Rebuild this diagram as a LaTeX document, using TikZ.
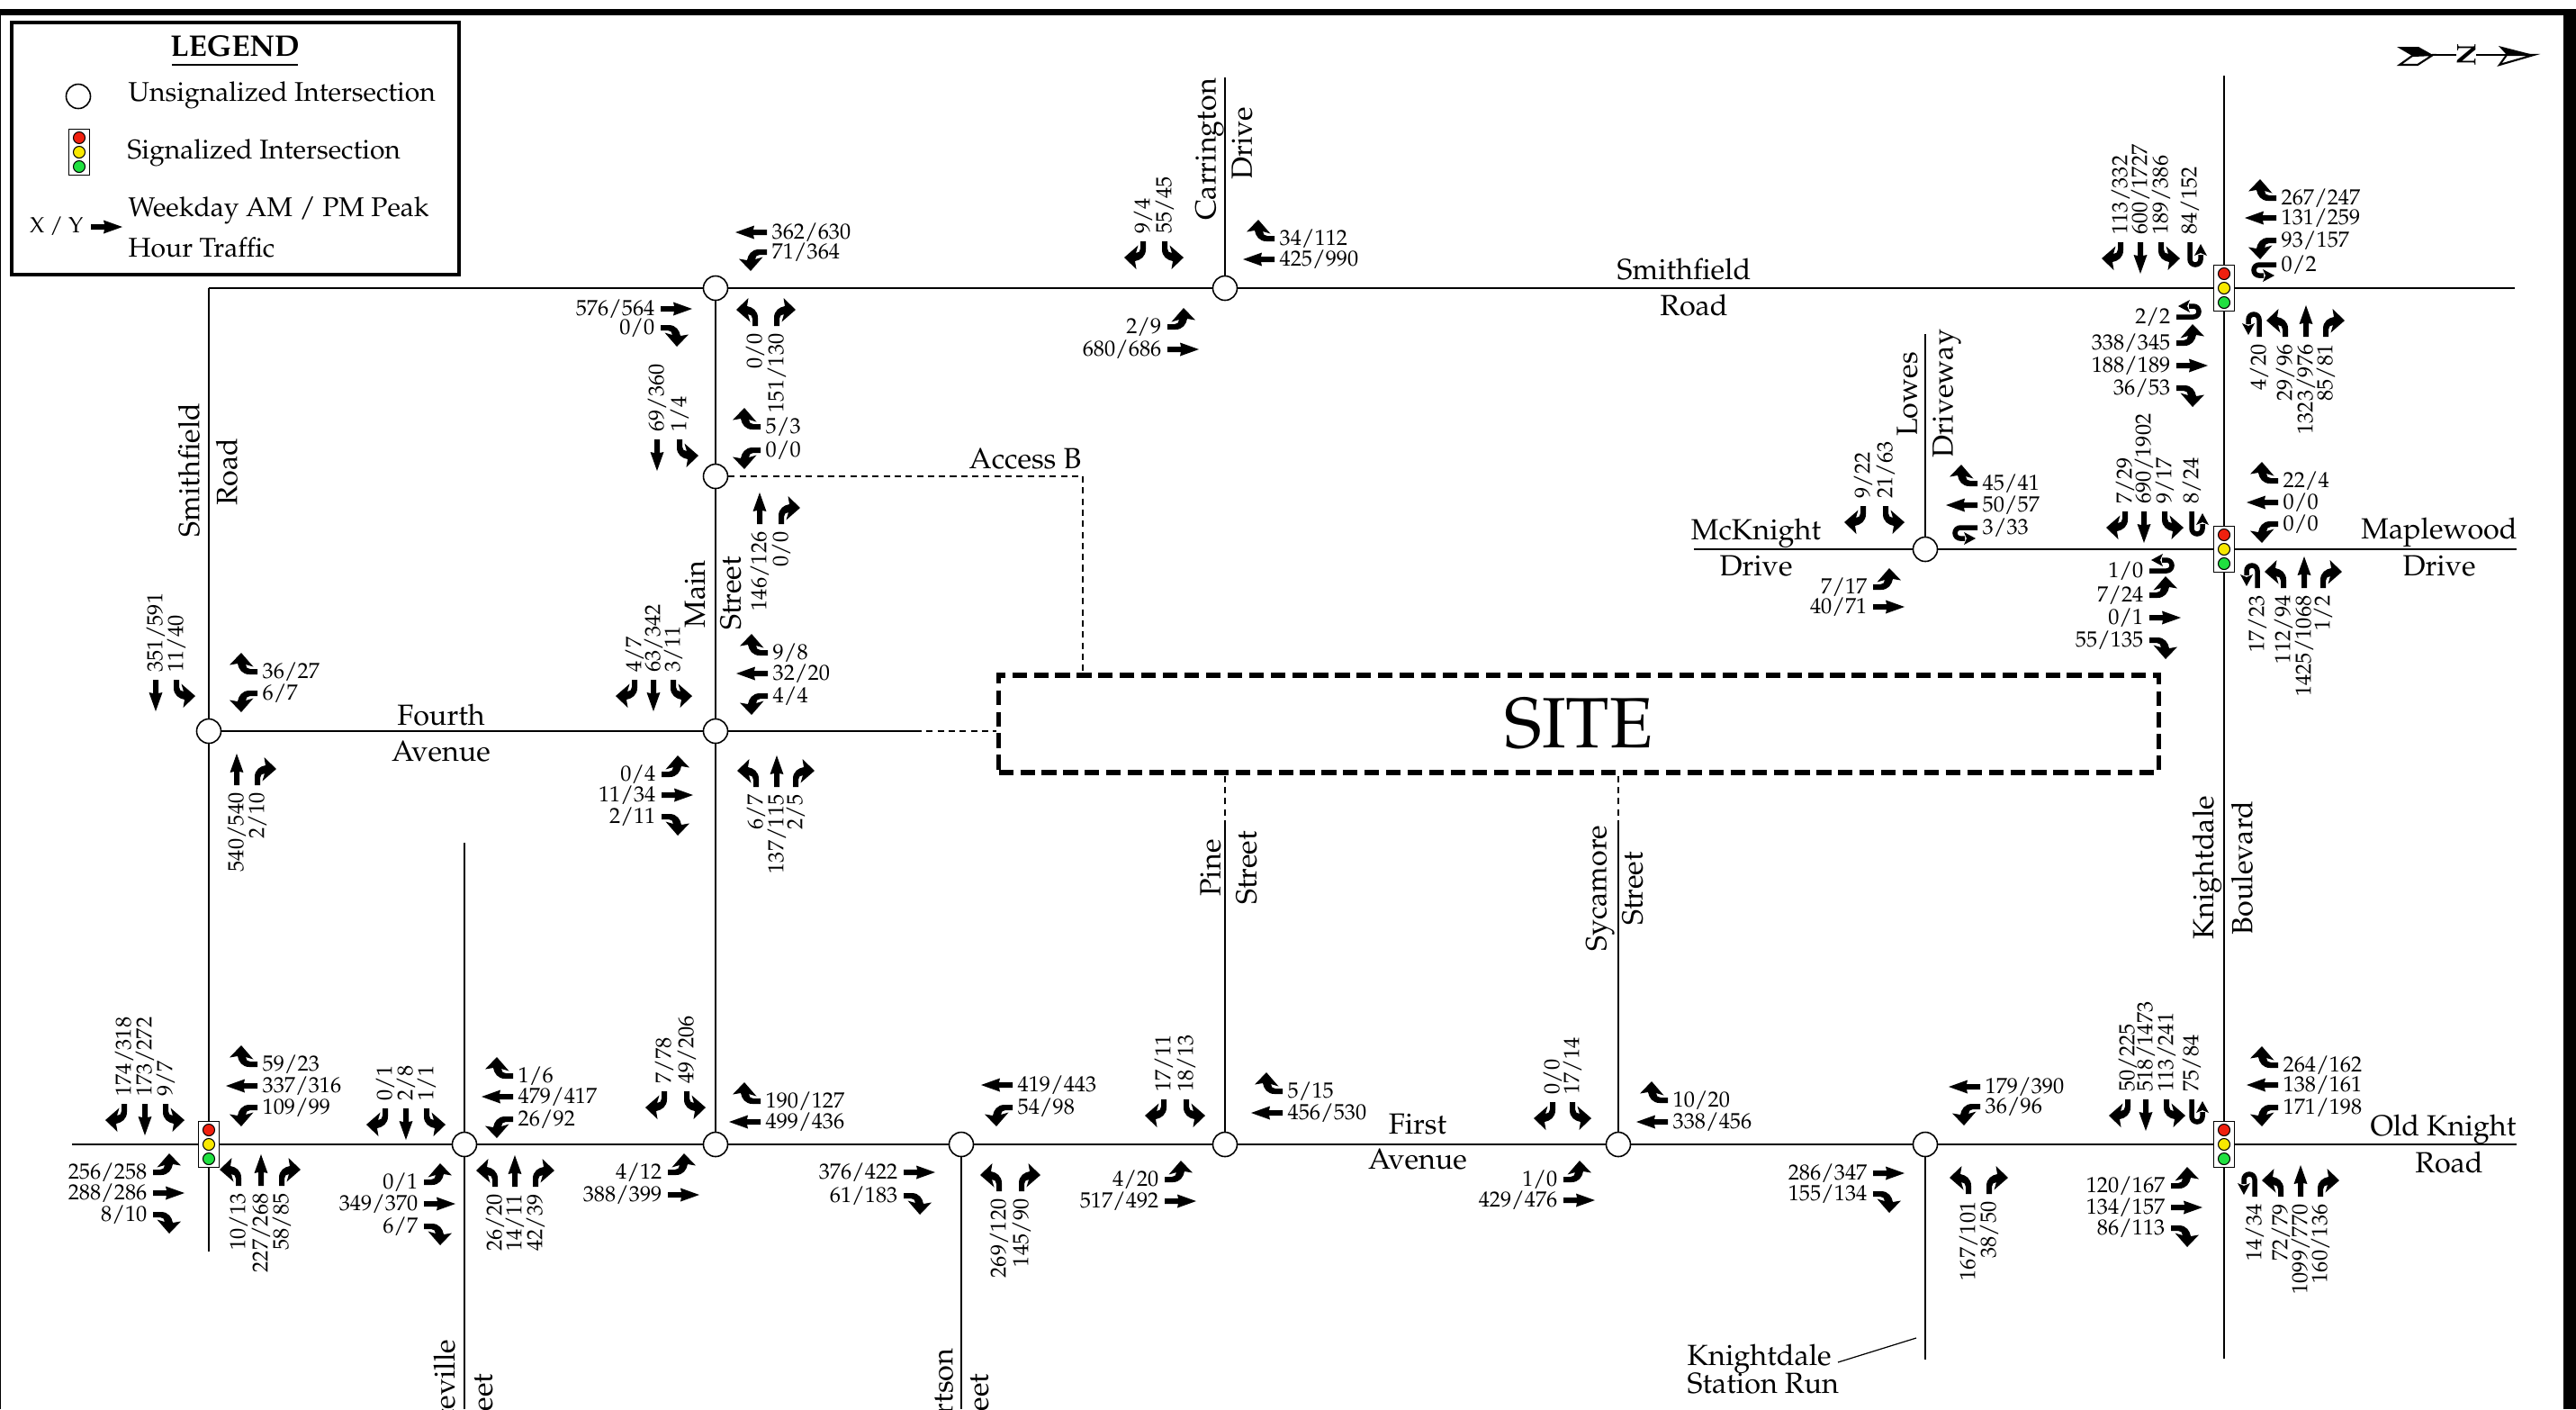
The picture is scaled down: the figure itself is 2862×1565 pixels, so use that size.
\documentclass[tikz,border=0pt]{standalone}
\usepackage[T1]{fontenc}
\usepackage{mathpazo}
\usepackage{tikz}
\usetikzlibrary{positioning, calc}
\usepackage{xcolor}

\definecolor{sigred}{HTML}{F0200F}
\definecolor{sigyellow}{HTML}{F8E800}
\definecolor{siggreen}{HTML}{20E040}

\newcommand{\rturnpath}{(-3,0) -- (-3,9) .. controls (-3,17) and (3,21) .. (9,22) -- (7.5,31) -- (21,18) -- (5.5,4.5) -- (8,13) .. controls (5,13) and (3,11) .. (3,8) -- (3,0) -- cycle}

\tikzset{
  road/.style={line width=0.7pt},
  accessrd/.style={line width=0.55pt, dash pattern=on 2pt off 1.5pt},
  noctrl/.style={circle, draw, fill=white, line width=0.45pt, minimum size=0.27cm, inner sep=0pt},
  signalbox/.style={rectangle, draw, fill=white, line width=0.35pt, minimum width=0.23cm, minimum height=0.51cm, inner sep=0pt},
  vol/.style={font=\fontsize{6.9}{7}\selectfont, inner sep=0pt},
  volv/.style={vol, rotate=90},
  streetname/.style={font=\fontsize{9.2}{10}\selectfont, inner sep=0pt},
  streetv/.style={streetname, rotate=90},
  legendtxt/.style={font=\fontsize{8.55}{10}\selectfont, inner sep=0pt, anchor=west},
  pics/thru/.style={code={\fill[x=0.01cm, y=0.01cm] (-3,0) -- (-3,15) -- (-7.5,14) -- (0,35) -- (7.5,14) -- (3,15) -- (3,0) -- cycle;}},
  pics/rturn/.style={code={\fill[x=0.01cm, y=0.01cm] \rturnpath;}},
  pics/lturn/.style={code={\fill[x=0.01cm, y=0.01cm, xscale=-1] \rturnpath;}},
  pics/uturn/.style={code={
    \draw[x=0.01cm, y=0.01cm, line width=0.055cm] (0,0) -- (0,19) arc[start angle=0, end angle=180, radius=6] -- (-12,14);
    \fill[x=0.01cm, y=0.01cm] (-19,15) -- (-12,2) -- (-5,15) -- (-12,12) -- cycle;}}
}

% arrow base x, y, kind, AM, PM
\newcommand{\nbmoves}[1]{\foreach \x/\y/\k/\va/\vb in {#1}{\pic at (\x,\y) {\k}; \node[volv, anchor=east, name=nb\x-\y] at (\x,\y+8) {\va/\vb};}}
\newcommand{\sbmoves}[1]{\foreach \x/\y/\k/\va/\vb in {#1}{\pic[rotate=180] at (\x,\y) {\k}; \node[volv, anchor=west, name=sb\x-\y] at (\x,\y-8) {\va/\vb};}}
\newcommand{\ebmoves}[1]{\foreach \x/\y/\k/\va/\vb in {#1}{\pic[rotate=-90] at (\x,\y) {\k}; \node[vol, anchor=east, name=eb\x-\y] at (\x-6,\y) {\va/\vb};}}
\newcommand{\wbmoves}[1]{\foreach \x/\y/\k/\va/\vb in {#1}{\pic[rotate=90] at (\x,\y) {\k}; \node[vol, anchor=west, name=wb\x-\y] at (\x+5,\y) {\va/\vb};}}

\begin{document}
\begin{tikzpicture}[x=0.01cm, y=-0.01cm]
  \useasboundingbox (0,0) rectangle (2862,1565);
  \clip (0,0) rectangle (2862,1565);
  \fill[white] (0,0) rectangle (2862,1565);

  % sheet edge
  \fill (0,10) rectangle (2862,17);
  \fill (2848,10) rectangle (2862,1565);
  \draw[line width=0.4pt] (0.5,10) -- (0.5,1565);

  % legend
  \draw[line width=0.9pt] (13,25) rectangle (510,305);
  \node[font=\bfseries\fontsize{9.4}{10}\selectfont, inner sep=0pt] (lgtitle) at (261,51) {LEGEND};
  \draw[line width=0.7pt] (191,72) -- (331,72);
  \node[noctrl] (lgopen) at (87,107) {};
  \node[signalbox] (lgsig) at (88,169) {};
  \node[legendtxt] (lgone) at (142,106) {Unsignalized Intersection};
  \node[legendtxt] (lgtwo) at (141,170) {Signalized Intersection};
  \node[legendtxt] (lgthree) at (142,234) {Weekday AM / PM Peak};
  \node[legendtxt] (lgfour) at (142,275) {Hour Traffic};
  \node[vol, anchor=east] (lgxy) at (93,251) {X / Y};
  \pic[rotate=-90] at (101,252) {thru};

  % north arrow
  \fill (2663,52) -- (2687,52) -- (2703,61) -- (2680,62) -- cycle;
  \draw[line width=0.6pt] (2666,72) -- (2686,72) -- (2703,61) -- (2680,62) -- cycle;
  \draw[line width=0.6pt] (2700,61) -- (2790,61);
  \fill (2776,51) -- (2815,61) -- (2785,61) -- cycle;
  \draw[line width=0.6pt, fill=white] (2777,72) -- (2815,61) -- (2785,61) -- cycle;
  \node[fill=white, inner sep=0.3pt, rotate=-90, font=\bfseries\fontsize{8.5}{9}\selectfont] (northn) at (2740,61) {N};

  % intersections
  \node[noctrl] (topmain) at (795,320) {};
  \node[noctrl] (topcarr) at (1361,320) {};
  \node[noctrl] (accb) at (795,529) {};
  \node[noctrl] (frthsmith) at (232,812) {};
  \node[noctrl] (frthmain) at (795,812) {};
  \node[noctrl] (lowes) at (2139,610) {};
  \node[noctrl] (frstfay) at (516,1271) {};
  \node[noctrl] (frstmain) at (795,1271) {};
  \node[noctrl] (frstrob) at (1068,1271) {};
  \node[noctrl] (frstpine) at (1361,1271) {};
  \node[noctrl] (frstsyc) at (1798,1271) {};
  \node[noctrl] (frstksr) at (2139,1271) {};
  \node[signalbox] (sigtop) at (2471,320) {};
  \node[signalbox] (sigmaple) at (2471,610) {};
  \node[signalbox] (sigold) at (2471,1271) {};
  \node[signalbox] (sigfrst) at (232,1271) {};
  \foreach \n in {lgsig,sigtop,sigmaple,sigold,sigfrst}{
    \draw[fill=sigred, line width=0.3pt] ([yshift=0.16cm]\n.center) circle (0.065cm);
    \draw[fill=sigyellow, line width=0.3pt] (\n.center) circle (0.065cm);
    \draw[fill=siggreen, line width=0.3pt] ([yshift=-0.16cm]\n.center) circle (0.065cm);
  }
  \node[draw, line width=1.6pt, dash pattern=on 4.6pt off 2.2pt, minimum width=12.88cm, minimum height=1.08cm, inner sep=0pt, font=\fontsize{22.5}{24}\selectfont] (site) at (1754,804) {SITE};

  % free road ends
  \coordinate (cornerne) at (232,320);
  \coordinate (topend) at (2794,320);
  \coordinate (smithend) at (232,1390);
  \coordinate (carrend) at (1361,86);
  \coordinate (blvdtop) at (2471,84);
  \coordinate (blvdend) at (2471,1509);
  \coordinate (mckend) at (1882,610);
  \coordinate (mapleend) at (2796,610);
  \coordinate (lowesend) at (2139,371);
  \coordinate (frstwest) at (80,1271);
  \coordinate (frsteast) at (2796,1271);
  \coordinate (frthend) at (1017,812);
  \coordinate (accorner) at (1203,529);
  \coordinate (pineend) at (1361,918);
  \coordinate (sycend) at (1798,918);
  \coordinate (fayend) at (516,936);
  \coordinate (fayfoot) at (516,1565);
  \coordinate (robfoot) at (1068,1565);
  \coordinate (ksrend) at (2139,1510);
  \coordinate (ksrlead) at (2129,1486);
  \coordinate (ksrtext) at (2042,1513);

  \draw[road] (cornerne) -- (topmain);
  \draw[road] (topmain) -- (topcarr);
  \draw[road] (topcarr) -- (sigtop);
  \draw[road] (sigtop) -- (topend);
  \draw[road] (cornerne) -- (frthsmith);
  \draw[road] (frthsmith) -- (sigfrst);
  \draw[road] (sigfrst) -- (smithend);
  \draw[road] (topmain) -- (accb);
  \draw[road] (accb) -- (frthmain);
  \draw[road] (frthmain) -- (frstmain);
  \draw[road] (frthsmith) -- (frthmain);
  \draw[road] (frthmain) -- (frthend);
  \draw[accessrd] (frthend) -- (frthend -| site.west);
  \draw[accessrd] (accb) -- (accorner);
  \draw[accessrd] (accorner) -- (accorner |- site.north);
  \draw[road] (carrend) -- (topcarr);
  \draw[road] (blvdtop) -- (sigtop);
  \draw[road] (sigtop) -- (sigmaple);
  \draw[road] (sigmaple) -- (sigold);
  \draw[road] (sigold) -- (blvdend);
  \draw[road] (mckend) -- (lowes);
  \draw[road] (lowes) -- (sigmaple);
  \draw[road] (sigmaple) -- (mapleend);
  \draw[road] (lowesend) -- (lowes);
  \draw[road] (frstwest) -- (sigfrst);
  \draw[road] (sigfrst) -- (frstfay);
  \draw[road] (frstfay) -- (frstmain);
  \draw[road] (frstmain) -- (frstrob);
  \draw[road] (frstrob) -- (frstpine);
  \draw[road] (frstpine) -- (frstsyc);
  \draw[road] (frstsyc) -- (frstksr);
  \draw[road] (frstksr) -- (sigold);
  \draw[road] (sigold) -- (frsteast);
  \draw[road] (pineend) -- (frstpine);
  \draw[accessrd] (pineend) -- (pineend |- site.south);
  \draw[road] (sycend) -- (frstsyc);
  \draw[accessrd] (sycend) -- (sycend |- site.south);
  \draw[road] (fayend) -- (frstfay);
  \draw[road] (frstfay) -- (fayfoot);
  \draw[road] (frstrob) -- (robfoot);
  \draw[road] (frstksr) -- (ksrend);
  \draw[line width=0.35pt] (ksrlead) -- (ksrtext);

  % street names
  \node[streetv] (smithwa) at (210,522) {Smithfield};
  \node[streetv] (smithwb) at (252,524) {Road};
  \node[streetv] (maina) at (772,660) {Main};
  \node[streetv] (mainb) at (812,659) {Street};
  \node[streetv] (carra) at (1344,166) {Carrington};
  \node[streetv] (carrb) at (1380,159) {Drive};
  \node[streetname] (smithna) at (1871,299) {Smithfield};
  \node[streetname] (smithnb) at (1882,339) {Road};
  \node[streetv] (lowesa) at (2119,438) {Lowes};
  \node[streetv] (lowesb) at (2163,437) {Driveway};
  \node[streetname] (mcka) at (1951,592) {McKnight};
  \node[streetname] (mckb) at (1951,629) {Drive};
  \node[streetname] (maplea) at (2710,591) {Maplewood};
  \node[streetname] (mapleb) at (2710,629) {Drive};
  \node[streetname] (frtha) at (490,794) {Fourth};
  \node[streetname] (frthb) at (490,835) {Avenue};
  \node[streetname, anchor=east] (accname) at (1202,510) {Access B};
  \node[streetv] (pinea) at (1345,964) {Pine};
  \node[streetv] (pineb) at (1385,964) {Street};
  \node[streetv] (syca) at (1778,987) {Sycamore};
  \node[streetv] (sycb) at (1814,987) {Street};
  \node[streetv] (blvda) at (2452,964) {Knightdale};
  \node[streetv] (blvdb) at (2491,964) {Boulevard};
  \node[streetname] (frsta) at (1575,1249) {First};
  \node[streetname] (frstb) at (1575,1288) {Avenue};
  \node[streetname, anchor=east] (olda) at (2796,1254) {Old Knight};
  \node[streetname] (oldb) at (2721,1291) {Road};
  \node[streetname, anchor=west] (ksra) at (1874,1509) {Knightdale};
  \node[streetname, anchor=west] (ksrb) at (1874,1537) {Station Run};
  \node[streetv, anchor=east] (faya) at (498,1487) {Fayetteville};
  \node[streetv, anchor=east] (fayb) at (536,1525) {Street};
  \node[streetv, anchor=east] (roba) at (1047,1497) {Robertson};
  \node[streetv, anchor=east] (robb) at (1087,1525) {Street};

  % Smithfield Road north end
  \wbmoves{2529/220/rturn/267/247, 2529/242/thru/131/259, 2529/267/lturn/93/157, 2529/294/uturn/0/2}
  \sbmoves{2356/269/rturn/113/332, 2378/269/thru/600/1727, 2401/269/lturn/189/386, 2433/269/uturn/84/152}
  \ebmoves{2418/352/uturn/2/2, 2418/381/lturn/338/345, 2418/406/thru/188/189, 2418/431/rturn/36/53}
  \nbmoves{2510/374/uturn/4/20, 2539/374/lturn/29/96, 2562/374/thru/1323/976, 2584/374/rturn/85/81}

  % Maplewood
  \sbmoves{2361/568/rturn/7/29, 2382/568/thru/690/1902, 2405/568/lturn/9/17, 2435/568/uturn/8/24}
  \wbmoves{2531/534/rturn/22/4, 2531/558/thru/0/0, 2531/582/lturn/0/0}
  \ebmoves{2388/634/uturn/1/0, 2388/661/lturn/7/24, 2388/686/thru/0/1, 2388/711/rturn/55/135}
  \nbmoves{2508/653/uturn/17/23, 2537/653/lturn/112/94, 2560/653/thru/1425/1068, 2581/653/rturn/1/2}

  % Old Knight
  \sbmoves{2364/1221/rturn/50/225, 2384/1221/thru/518/1473, 2407/1221/lturn/113/241, 2435/1221/uturn/75/84}
  \wbmoves{2531/1183/rturn/264/162, 2531/1205/thru/138/161, 2531/1230/lturn/171/198}
  \ebmoves{2412/1317/lturn/120/167, 2412/1341/thru/134/157, 2412/1364/rturn/86/113}
  \nbmoves{2505/1329/uturn/14/34, 2534/1329/lturn/72/79, 2556/1329/thru/1099/770, 2578/1329/rturn/160/136}

  % First Avenue, west to east
  \sbmoves{138/1226/rturn/174/318, 161/1226/thru/173/272, 184/1226/lturn/9/7}
  \wbmoves{286/1182/rturn/59/23, 286/1206/thru/337/316, 286/1230/lturn/109/99}
  \ebmoves{170/1302/lturn/256/258, 170/1325/thru/288/286, 170/1349/rturn/8/10}
  \nbmoves{265/1317/lturn/10/13, 290/1317/thru/227/268, 313/1317/rturn/58/85}

  \sbmoves{428/1231/rturn/0/1, 451/1231/thru/2/8, 474/1231/lturn/1/1}
  \wbmoves{570/1195/rturn/1/6, 570/1218/thru/479/417, 570/1243/lturn/26/92}
  \ebmoves{471/1313/lturn/0/1, 471/1337/thru/349/370, 471/1362/rturn/6/7}
  \nbmoves{550/1318/lturn/26/20, 572/1318/thru/14/11, 595/1318/rturn/42/39}

  \sbmoves{738/1212/rturn/7/78, 763/1212/lturn/49/206}
  \wbmoves{845/1223/rturn/190/127, 845/1246/thru/499/436}
  \ebmoves{742/1302/lturn/4/12, 742/1327/thru/388/399}

  \wbmoves{1125/1205/thru/419/443, 1125/1230/lturn/54/98}
  \ebmoves{1004/1302/thru/376/422, 1004/1328/rturn/61/183}
  \nbmoves{1110/1323/lturn/269/120, 1135/1323/rturn/145/90}

  \sbmoves{1293/1221/rturn/17/11, 1318/1221/lturn/18/13}
  \wbmoves{1425/1212/rturn/5/15, 1425/1236/thru/456/530}
  \ebmoves{1294/1310/lturn/4/20, 1294/1334/thru/517/492}

  \sbmoves{1725/1224/rturn/0/0, 1747/1224/lturn/17/14}
  \wbmoves{1853/1222/rturn/10/20, 1853/1246/thru/338/456}
  \ebmoves{1737/1310/lturn/1/0, 1737/1333/thru/429/476}

  \wbmoves{2200/1207/thru/179/390, 2200/1229/lturn/36/96}
  \ebmoves{2081/1303/thru/286/347, 2081/1326/rturn/155/134}
  \nbmoves{2187/1326/lturn/167/101, 2210/1326/rturn/38/50}

  % Smithfield Road / Main Street
  \wbmoves{852/258/thru/362/630, 852/280/lturn/71/364}
  \ebmoves{734/343/thru/576/564, 734/364/rturn/0/0}
  \nbmoves{839/362/lturn/0/0, 863/362/rturn/151/130}

  \sbmoves{730/488/thru/69/360, 755/488/lturn/1/4}
  \wbmoves{845/474/rturn/5/3, 845/500/lturn/0/0}
  \nbmoves{844/582/thru/146/126, 868/582/rturn/0/0}

  \sbmoves{1270/268/rturn/9/4, 1294/268/lturn/55/45}
  \wbmoves{1416/265/rturn/34/112, 1416/288/thru/425/990}
  \ebmoves{1297/363/lturn/2/9, 1297/388/thru/680/686}

  % Lowes Driveway
  \sbmoves{2070/562/rturn/9/22, 2095/562/lturn/21/63}
  \wbmoves{2197/537/rturn/45/41, 2197/561/thru/50/57, 2197/586/uturn/3/33}
  \ebmoves{2081/652/lturn/7/17, 2081/674/thru/40/71}

  % Fourth Avenue
  \sbmoves{173/755/thru/351/591, 196/755/lturn/11/40}
  \wbmoves{286/746/rturn/36/27, 286/770/lturn/6/7}
  \nbmoves{263/872/thru/540/540, 286/872/rturn/2/10}

  \sbmoves{705/755/rturn/4/7, 726/755/thru/63/342, 748/755/lturn/3/11}
  \wbmoves{853/725/rturn/9/8, 853/748/thru/32/20, 853/773/lturn/4/4}
  \ebmoves{735/860/lturn/0/4, 735/883/thru/11/34, 735/907/rturn/2/11}
  \nbmoves{840/874/lturn/6/7, 863/874/thru/137/115, 884/874/rturn/2/5}
\end{tikzpicture}
\end{document}
